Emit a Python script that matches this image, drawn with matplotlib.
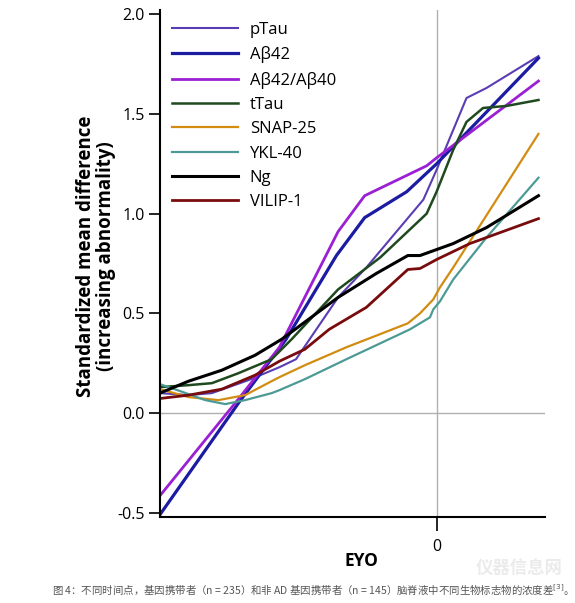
import numpy as np
import matplotlib.pyplot as plt

plt.rcParams['font.family'] = ['Open Sans', 'Noto Sans CJK SC', 'DejaVu Sans']

# 各生物标志物曲线 (EYO, 标准化均值差)
ptau_x = [-25, -22.4, -20.3, -17.0, -14.2, -12.7, -8.9, -6.35, -1.2, 0, 2.7, 4.5, 9.2]
ptau_y = [0.10, 0.09, 0.10, 0.165, 0.23, 0.27, 0.58, 0.73, 1.07, 1.22, 1.58, 1.63, 1.79]

ab42_x = [-25, -17.9, -13.6, -9.05, -6.5, -2.7, 0, 9.2]
ab42_y = [-0.51, 0.05, 0.37, 0.79, 0.98, 1.11, 1.25, 1.78]

ratio_x = [-25, -18.2, -14.2, -8.9, -6.5, -0.9, 0, 9.2]
ratio_y = [-0.415, 0.05, 0.33, 0.91, 1.09, 1.24, 1.28, 1.665]

ttau_x = [-25, -22.4, -20.3, -17.9, -14.9, -13.1, -8.9, -5.1, -0.9, 0, 1.5, 2.7, 4.2, 6.3, 9.2]
ttau_y = [0.13, 0.14, 0.15, 0.20, 0.27, 0.37, 0.62, 0.78, 1.0, 1.11, 1.32, 1.46, 1.53, 1.54, 1.57]

snap_x = [-25, -22.4, -19.7, -17.3, -14.9, -14.2, -11.9, -8.15, -2.6, -1.5, -0.3, 0.3, 1.5, 9.2]
snap_y = [0.12, 0.08, 0.065, 0.09, 0.16, 0.18, 0.24, 0.33, 0.45, 0.50, 0.57, 0.63, 0.73, 1.40]

ykl_x = [-25, -23.0, -20.9, -19.1, -17.3, -14.9, -14.2, -11.9, -8.15, -2.4, -0.6, -0.3, 0.3, 1.5, 4.5, 9.2]
ykl_y = [0.145, 0.107, 0.065, 0.045, 0.065, 0.10, 0.115, 0.17, 0.27, 0.42, 0.48, 0.52, 0.56, 0.67, 0.88, 1.18]

ng_x = [-25, -22.4, -19.4, -16.4, -14.0, -8.9, -5.45, -2.6, -1.5, 0, 1.5, 4.5, 9.2]
ng_y = [0.10, 0.16, 0.215, 0.29, 0.37, 0.58, 0.70, 0.79, 0.79, 0.82, 0.85, 0.93, 1.09]

vilip_x = [-25, -22.4, -19.4, -16.4, -14.2, -11.9, -9.7, -6.35, -2.6, -1.5, 0, 3.0, 9.2]
vilip_y = [0.073, 0.09, 0.12, 0.19, 0.26, 0.32, 0.42, 0.53, 0.72, 0.725, 0.77, 0.85, 0.975]

series = [
    ('pTau', ptau_x, ptau_y, '#5b3db3', 1.5),
    ('Aβ42', ab42_x, ab42_y, '#1c1ca3', 2.3),
    ('Aβ42/Aβ40', ratio_x, ratio_y, '#9b1fd3', 2.0),
    ('tTau', ttau_x, ttau_y, '#1f4a1f', 1.8),
    ('SNAP-25', snap_x, snap_y, '#d28c12', 1.6),
    ('YKL-40', ykl_x, ykl_y, '#4d9a95', 1.6),
    ('Ng', ng_x, ng_y, '#000000', 2.2),
    ('VILIP-1', vilip_x, vilip_y, '#780c0c', 2.0),
]

fig = plt.figure(figsize=(5.75, 6.03), dpi=100)
ax = fig.add_axes([0.278, 0.143, 0.67, 0.84])

ax.axhline(0, color='#b0b0b0', lw=1, zorder=0)
ax.axvline(0, color='#b0b0b0', lw=1, zorder=0)

for name, xs, ys, c, lw in series:
    ax.plot(xs, ys, color=c, lw=lw, label=name)

ax.set_xlim(-25, 9.8)
ax.set_ylim(-0.52, 2.02)
ax.set_xticks([0])
ax.set_yticks([-0.5, 0.0, 0.5, 1.0, 1.5, 2.0])
ax.set_yticklabels(['-0.5', '0.0', '0.5', '1.0', '1.5', '2.0'])
ax.tick_params(direction='out', length=8, width=1.2, labelsize=11.5, pad=3)
ax.tick_params(axis='x', length=10, pad=6)
for s in ['top', 'right']:
    ax.spines[s].set_visible(False)
for s in ['left', 'bottom']:
    ax.spines[s].set_linewidth(1.5)

ax.set_xlabel('EYO', fontsize=12.5, fontweight='bold')
ax.xaxis.set_label_coords(0.522, -0.07)
ax.set_ylabel('Standardized mean difference\n(increasing abnormality)',
              fontsize=13.5, fontweight='bold', linespacing=0.95)
ax.yaxis.set_label_coords(-0.115, 0.515)

ax.legend(loc='upper left', bbox_to_anchor=(0.0, 1.0), frameon=False,
          fontsize=12, handlelength=4.0, labelspacing=0.5, handletextpad=0.7,
          borderaxespad=0.3)

fig.text(0.09, 0.022,
         '图 4：不同时间点，基因携带者（n = 235）和非 AD 基因携带者（n = 145）脑脊液中不同生物标志物的浓度差$^{[3]}$。',
         fontsize=7.5, color='#555555', va='center',
         family=['Noto Sans CJK SC', 'DejaVu Sans'])
fig.text(0.979, 0.058, '仪器信息网', fontsize=12.5, color='#ebebeb', ha='right',
         va='center', family=['Noto Sans CJK SC'], fontweight='bold')

fig.savefig('out.png', dpi=100)
